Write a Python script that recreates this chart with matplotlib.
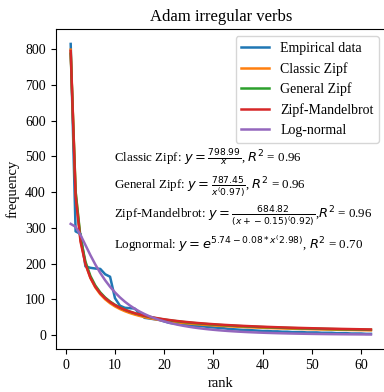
import numpy as np
import matplotlib
matplotlib.use('Agg')
import matplotlib.pyplot as plt

plt.rcParams['font.family'] = ['Liberation Serif', 'DejaVu Serif']
plt.rcParams['mathtext.fontset'] = 'dejavusans'

# Frequencies of irregular verbs by rank
freq = [815, 290, 283, 192, 188, 186, 185, 170, 163, 103,
        82, 76, 75, 74, 60, 48, 46, 44, 42, 38,
        34, 32, 30, 29, 27, 26, 25, 24, 22, 21,
        20, 19, 17, 16, 15, 14, 14, 13, 12, 11,
        11, 10, 10, 9, 9, 8, 8, 8, 7, 7,
        7, 6, 6, 6, 5, 5, 5, 4, 4, 4,
        3, 3]
rank = np.arange(1, len(freq) + 1)

# Fitted parameters
zipf_c = 798.99
gen_c, gen_a = 787.45, 0.97
zm_c, zm_b, zm_a = 684.82, -0.15, 0.92
ln_a, ln_b, ln_p = 5.74, 0.08, 2.98
r2 = {'zipf': 0.96, 'gen': 0.96, 'zm': 0.96, 'ln': 0.70}

classic = zipf_c / rank
general = gen_c / rank ** gen_a
mandel = zm_c / (rank + zm_b) ** zm_a
lognorm = np.exp(ln_a - ln_b * np.log(rank) ** ln_p)

fig = plt.figure(figsize=(3.84, 3.92), dpi=100)
ax = fig.add_axes([0.145, 0.1097, 0.86, 0.8153])

lw = 1.8
ax.plot(rank, freq, color='tab:blue', lw=lw, label='Empirical data')
ax.plot(rank, classic, color='tab:orange', lw=lw, label='Classic Zipf')
ax.plot(rank, general, color='tab:green', lw=lw, label='General Zipf')
ax.plot(rank, mandel, color='tab:red', lw=lw, label='Zipf-Mandelbrot')
ax.plot(rank, lognorm, color='tab:purple', lw=lw, label='Log-normal')

fs = 10
tfs = 9.4
tx = 0.178
ax.text(tx, 0.598, r'Classic Zipf: $y = \frac{%.2f}{x}$, $R^2$ = %.2f' % (zipf_c, r2['zipf']),
        transform=ax.transAxes, va='center', fontsize=tfs)
ax.text(tx, 0.506, r'General Zipf: $y = \frac{%.2f}{x^(%.2f)}$, $R^2$ = %.2f' % (gen_c, gen_a, r2['gen']),
        transform=ax.transAxes, va='center', fontsize=tfs)
ax.text(tx, 0.414, r'Zipf-Mandelbrot: $y = \frac{%.2f}{(x + %.2f)^(%.2f)}$,$R^2$ = %.2f'
        % (zm_c, zm_b, zm_a, r2['zm']),
        transform=ax.transAxes, va='center', fontsize=tfs)
ax.text(tx, 0.328, r'Lognormal: $y = e^{%.2f - %.2f * x^(%.2f)}$, $R^2$ = %.2f'
        % (ln_a, ln_b, ln_p, r2['ln']),
        transform=ax.transAxes, va='center', fontsize=tfs)

ax.set_xticks([0, 10, 20, 30, 40, 50, 60])
ax.set_yticks([0, 100, 200, 300, 400, 500, 600, 700, 800])
ax.tick_params(labelsize=fs)
ax.set_xlabel('rank', fontsize=fs + 0.5)
ax.set_ylabel('frequency', fontsize=fs + 0.5)
ax.set_title('Adam irregular verbs', fontsize=12)
ax.legend(loc='upper right', fontsize=fs)

fig.savefig('out.png', dpi=100)
